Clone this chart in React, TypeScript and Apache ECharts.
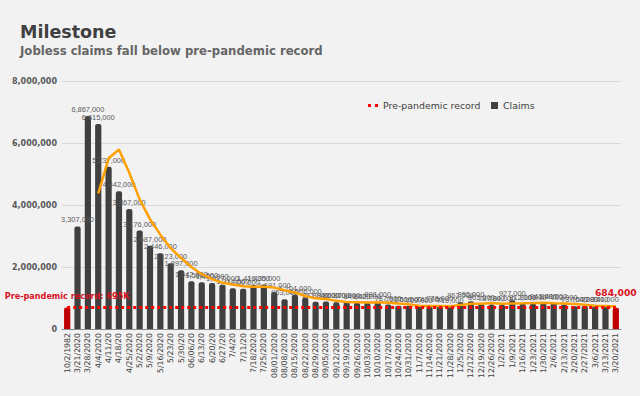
import React, { useEffect, useRef } from "react";
import * as echarts from "echarts";

const categories = [
  "10/2/1982", "3/21/2020", "3/28/2020", "4/4/2020", "4/11/20", "4/18/20", "4/25/2020", "5/2/2020",
  "5/9/2020", "5/16/2020", "5/23/20", "5/30/20", "06/06/20", "6/13/20", "6/20/20", "6/27/20",
  "7/4/20", "7/11/20", "7/18/2020", "7/25/2020", "08/01/2020", "08/08/2020", "08/15/2020", "08/22/2020",
  "08/29/2020", "09/05/2020", "09/12/2020", "09/19/2020", "09/26/2020", "10/03/2020", "10/10/2020", "10/17/2020",
  "10/24/2020", "10/31/2020", "11/7/2020", "11/14/2020", "11/21/2020", "11/28/2020", "12/5/2020", "12/12/2020",
  "12/19/2020", "12/26/2020", "1/2/2021", "1/9/2021", "1/16/2021", "1/23/2021", "1/30/2021", "2/6/2021",
  "2/13/2021", "2/20/2021", "2/27/2021", "3/6/2021", "3/13/2021", "3/20/2021",
];

const claims = [
  695000, 3307000, 6867000, 6615000, 5237000, 4442000, 3867000, 3176000,
  2687000, 2446000, 2123000, 1897000, 1542000, 1508000, 1480000, 1427000,
  1314000, 1300000, 1416000, 1435000, 1191000, 963000, 1104000, 1006000,
  881000, 884000, 860000, 870000, 849000, 842000, 898000, 787000,
  751000, 751000, 709000, 742000, 778000, 716000, 862000, 892000,
  803000, 787000, 784000, 927000, 812000, 816000, 841000, 848000,
  793000, 737000, 754000, 728000, 741000, 684000,
];

// 4-week moving average trendline, as drawn in the reference
const movingAverage = [
  null, null, null, 4371000, 5506500, 5790250, 5040250, 4180500,
  3543000, 3044000, 2608000, 2288250, 2002000, 1767500, 1606750, 1489250,
  1432250, 1380250, 1364250, 1366250, 1335500, 1251250, 1173250, 1066000,
  988500, 968750, 907750, 873750, 865750, 855250, 864750, 844000,
  819500, 796750, 749500, 738250, 745000, 736250, 774500, 812000,
  818250, 836000, 816500, 825250, 827500, 834750, 849000, 829250,
  824500, 804750, 783000, 753000, 740000, 726750,
];

const PRE_PANDEMIC_RECORD = 695000;
const preRecordLine = categories.map(() => PRE_PANDEMIC_RECORD);

const FONT = "DejaVu Sans";
const fmt = (v: number) => v.toLocaleString("en-US");

export default function App() {
  const ref = useRef<HTMLDivElement>(null);
  useEffect(() => {
    if (!ref.current) return;
    const chart = echarts.init(ref.current, null, { renderer: "svg" });
    const last = claims.length - 1;
    const barData = claims.map((v, i) => {
      if (i === 0) {
        return {
          value: v,
          itemStyle: { color: "#c00000" },
          label: {
            show: true,
            color: "#d9121f",
            fontWeight: "bold",
            fontSize: 8.1,
            fontFamily: FONT,
            distance: 7,
          },
        };
      }
      if (i === last) {
        return {
          value: v,
          itemStyle: { color: "#c00000" },
          label: {
            show: true,
            color: "#d9121f",
            fontWeight: "bold",
            fontSize: 9.2,
            fontFamily: FONT,
            distance: 11,
          },
        };
      }
      return v;
    });

    chart.setOption({
      animation: false,
      backgroundColor: "#f2f2f2",
      textStyle: { fontFamily: FONT },
      title: [
        {
          text: "Milestone",
          left: 20,
          top: 23,
          padding: 0,
          textStyle: { fontFamily: FONT, fontSize: 17.5, fontWeight: "bold", color: "#404040" },
        },
        {
          text: "Jobless claims fall below pre-pandemic record",
          left: 20,
          top: 45,
          padding: 0,
          textStyle: { fontFamily: FONT, fontSize: 11.7, fontWeight: "bold", color: "#666666" },
        },
      ],
      legend: [
        {
          data: [{ name: "Pre-pandemic record", icon: "path://M0,0h3v3h-3zM7,0h3v3h-3z" }],
          left: 368,
          top: 101,
          padding: 0,
          itemWidth: 10,
          itemHeight: 3,
          itemGap: 10,
          textStyle: { fontFamily: FONT, fontSize: 9.4, color: "#404040" },
        },
        {
          data: [{ name: "Claims", icon: "rect" }],
          left: 491,
          top: 101,
          padding: 0,
          itemWidth: 7,
          itemHeight: 7,
          textStyle: { fontFamily: FONT, fontSize: 9.4, color: "#404040" },
        },
      ],
      grid: { left: 62, right: 19, top: 81, bottom: 67, containLabel: false },
      xAxis: {
        type: "category",
        data: categories,
        axisLine: { lineStyle: { color: "#8c8c8c", width: 1 } },
        axisTick: { show: false },
        axisLabel: {
          interval: 0,
          rotate: 90,
          margin: 4,
          fontFamily: FONT,
          fontSize: 7.8,
          color: "#404040",
        },
      },
      yAxis: {
        type: "value",
        min: 0,
        max: 8000000,
        interval: 2000000,
        axisLine: { show: false },
        axisTick: { show: false },
        splitLine: { lineStyle: { color: "#d9d9d9", width: 1 } },
        axisLabel: {
          margin: 5,
          fontFamily: FONT,
          fontSize: 8,
          fontWeight: "bold",
          color: "#595959",
          formatter: (v: number) => fmt(v),
        },
      },
      series: [
        {
          name: "Claims",
          type: "bar",
          data: barData,
          barWidth: "60%",
          itemStyle: { color: "#404040", borderRadius: [2, 2, 0, 0] },
          label: {
            show: true,
            position: "top",
            distance: 3,
            fontFamily: "Liberation Sans",
            fontSize: 7.4,
            color: "#595959",
            formatter: (p: any) =>
              p.dataIndex === 0 ? `Pre-pandemic record: ${PRE_PANDEMIC_RECORD / 1000}K` : fmt(p.value),
          },
          z: 2,
        },
        {
          name: "Pre-pandemic record",
          type: "line",
          data: preRecordLine,
          symbol: "none",
          lineStyle: { color: "#ff0000", width: 3, type: [3, 3], cap: "butt" },
          itemStyle: { color: "#ff0000" },
          z: 4,
        },
        {
          name: "Trend",
          type: "line",
          data: movingAverage,
          symbol: "none",
          connectNulls: false,
          lineStyle: { color: "#ffa000", width: 2.5 },
          itemStyle: { color: "#ffa000" },
          z: 3,
        },
      ],
    });
    return () => chart.dispose();
  }, []);
  return (
    <div
      ref={ref}
      style={{ position: "fixed", left: 0, top: 0, width: 640, height: 396 }}
    />
  );
}
